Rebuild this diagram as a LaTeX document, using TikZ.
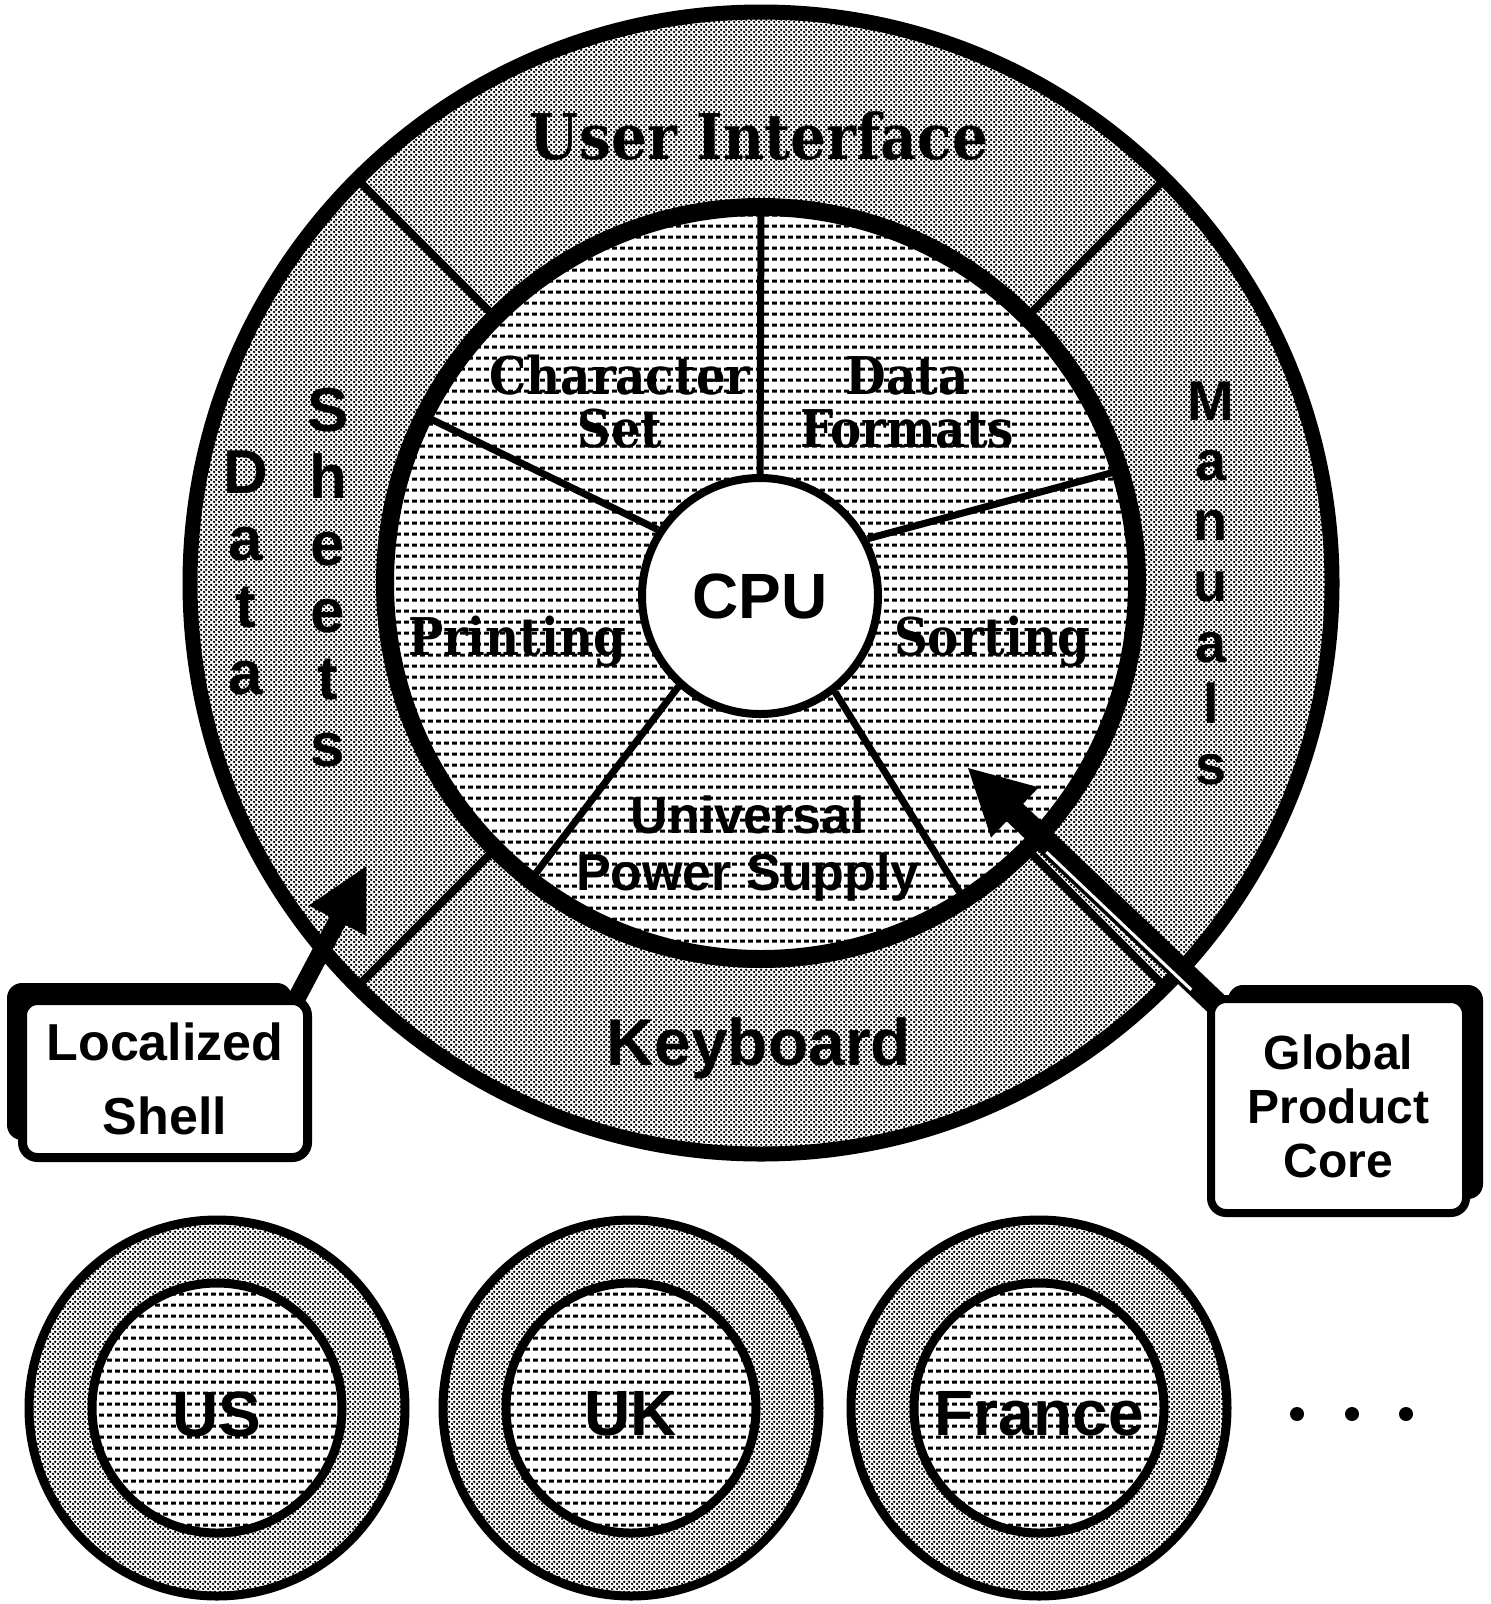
\documentclass[tikz,border=0pt]{standalone}
\usepackage{fontspec}
\setmainfont{Liberation Serif}
\setsansfont{Liberation Sans}
\newfontfamily\condserif{DejaVu Serif Condensed}
\usetikzlibrary{patterns.meta,arrows.meta,shadows,calc}
\pgfdeclarelayer{front}
\pgfsetlayers{main,front}

\tikzdeclarepattern{
  name=hdash, type=uncolored,
  bottom left={(0pt,0pt)}, top right={(7.6pt,10.6pt)},
  tile size={(7.6pt,10.6pt)},
  code={\pgfpathrectangle{\pgfpoint{0pt}{3.6pt}}{\pgfpoint{5pt}{3pt}}\pgfusepath{fill}}
}
\tikzdeclarepattern{
  name=dotscreen, type=uncolored,
  bottom left={(0pt,0pt)}, top right={(4.6pt,4.6pt)},
  tile size={(4.6pt,4.6pt)},
  code={\pgfpathcircle{\pgfpoint{1.15pt}{1.15pt}}{1.4pt}\pgfpathcircle{\pgfpoint{3.45pt}{3.45pt}}{1.4pt}\pgfusepath{fill}}
}
\newcommand\fsz[2]{\fontsize{#1pt}{#2pt}\selectfont}

\begin{document}
\begin{tikzpicture}[x=1pt,y=1pt,
  ringfill/.style={pattern=dotscreen, pattern color=black},
  discfill/.style={pattern=hdash, pattern color=black},
  spoke/.style={line width=7},
  divider/.style={line width=8},
  serlabel/.style={font=\condserif\bfseries\fsz{52}{53}, align=center, inner sep=0},
  sanlabel/.style={font=\sffamily\bfseries\fsz{52}{57}, align=center, inner sep=0},
  vlet/.style={font=\sffamily\bfseries\fsz{62}{62}, inner sep=0, anchor=base},
  mlet/.style={font=\sffamily\bfseries\fsz{56}{56}, inner sep=0, anchor=base},
  callout/.style={draw, line width=9, fill=white, rounded corners=15, align=center, inner sep=0},
  country/.style={font=\sffamily\bfseries\fsz{64}{64}, inner sep=0}
]
\useasboundingbox (0,0) rectangle (1491,-1604);
\fill[white] (0,0) rectangle (1491,-1604);

% ---- main rings ----
\coordinate (ring) at (761,-583);
\fill[white] (ring) circle (571);
\fill[ringfill] (ring) circle (571);
\fill[white] (ring) circle (376);
\fill[discfill] (ring) circle (376);

\foreach \a in {45,135,225,315}
  \draw[divider] ($(ring)+(\a:376)$) -- ($(ring)+(\a:571)$);

\node[circle, draw, line width=8, fill=white, minimum size=236, inner sep=0,
      font=\sffamily\bfseries\fsz{64}{64}] (cpu) at (760,-596) {CPU};

\foreach \ca/\ra in {90/90, 147/153.6, 28/17.4, 228/232.2, 308/302.7}
  \draw[spoke] (cpu.\ca) -- ($(ring)+(\ra:376)$);

\draw[line width=15] (ring) circle (571);
\draw[line width=18] (ring) circle (376);

% ---- labels ----
\node[serlabel, font=\condserif\bfseries\fsz{63}{63}] (ui) at (759,-136) {User Interface};
\node[serlabel] (charset) at (620,-402) {Character\\Set};
\node[serlabel] (formats) at (907,-402) {Data\\Formats};
\node[serlabel] (printing) at (517,-642) {Printing};
\node[serlabel] (sorting) at (992,-642) {Sorting};
\node[sanlabel] (ups) at (748,-849) {Universal\\Power Supply};
\node[sanlabel, font=\sffamily\bfseries\fsz{66}{66}] (kbd) at (759,-1048) {Keyboard};

\foreach \ch/\y [count=\i] in {D/493,a/560,t/627,a/694}
  \node[vlet] (data\i) at (246,-\y) {\ch};
\foreach \ch/\y [count=\i] in {S/431,h/498,e/565,e/632,t/699,s/766}
  \node[vlet] (sheets\i) at (328,-\y) {\ch};
\foreach \ch/\y [count=\i] in {M/420,a/480,n/540,u/601,a/662,l/723,s/784}
  \node[mlet] (man\i) at (1211,-\y) {\ch};

% ---- country circles ----
\foreach \cx/\lab [count=\i] in {217/US, 631/UK, 1039/France} {
  \coordinate (cc\i) at (\cx,-1408);
  \fill[white] (cc\i) circle (188);
  \fill[ringfill] (cc\i) circle (188);
  \draw[line width=9] (cc\i) circle (188);
  \fill[white] (cc\i) circle (125);
  \fill[discfill] (cc\i) circle (125);
  \draw[line width=9] (cc\i) circle (125);
  \node[country] (lab\i) at ($(cc\i)+(0,-6)$) {\lab};
}
\foreach \x in {1297,1352,1406}
  \fill (\x,-1414) circle (7);

% ---- callout boxes ----
\begin{pgfonlayer}{front}
\node[callout, minimum width=285, minimum height=157,
      font=\sffamily\bfseries\fsz{52}{74},
      general shadow={fill=black, shadow xshift=-15.5, shadow yshift=17.5}]
      (lbox) at (165,-1079) {Localized\\Shell};
\node[callout, line width=8, minimum width=255, minimum height=214,
      font=\sffamily\bfseries\fsz{48}{54},
      general shadow={fill=black, shadow xshift=17, shadow yshift=14}]
      (gbox) at (1338.5,-1106) {Global\\Product\\Core};
\end{pgfonlayer}

% ---- arrows ----
\coordinate (ltip) at (367,-865);
\draw[line width=18, -{Triangle[length=63pt,width=60pt]}]
  ($(lbox.32)!-30pt!(ltip)$) -- (ltip);

\coordinate (gtip) at (967,-767);
\draw[line width=24, -{Triangle[length=66pt,width=64pt]}]
  ($(gbox.north west)!-20pt!(gtip)$) -- (gtip);
\coordinate (gs1) at ($(gbox.north west)!15pt!(gtip)$);
\coordinate (gs2) at ($(gbox.north west)!215pt!(gtip)$);
\draw[white, line width=3] ($(gs1)!7pt!90:(gtip)$) -- ($(gs2)!7pt!-90:(gbox.north west)$);
\end{tikzpicture}
\end{document}
